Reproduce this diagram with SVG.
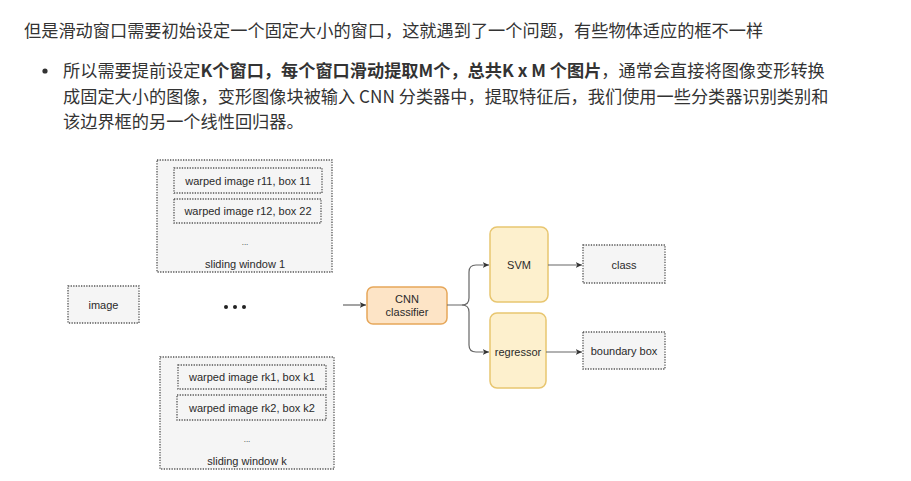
<svg xmlns="http://www.w3.org/2000/svg" width="911" height="481" viewBox="0 0 911 481">
<defs>
<style>
.cn{font-family:"Noto Sans CJK SC","Noto Sans",sans-serif;font-size:17.2px;fill:#333}
.cnb{font-weight:bold}
.t{font-family:"Liberation Sans",Arial,sans-serif;font-size:11px;fill:#2a2a2a;text-anchor:middle;dominant-baseline:central}
.dot{fill:#f5f5f5;stroke:#555;stroke-width:1.3;stroke-dasharray:1.3 1.3}
.cnn{fill:#fde4c6;stroke:#e6a75a;stroke-width:1.5}
.yel{fill:#fdf0cd;stroke:#e8c670;stroke-width:1.5}
.edge{fill:none;stroke:#666;stroke-width:1.2}
</style>
<marker id="ah" viewBox="0 0 10 10" refX="9" refY="5" markerWidth="7" markerHeight="7" orient="auto" markerUnits="userSpaceOnUse">
<path d="M0,1 L9,5 L0,9 L2.5,5 Z" fill="#333"/>
</marker>
</defs>
<rect width="911" height="481" fill="#fff"/>
<g id="text">
<text class="cn" x="24" y="37">但是滑动窗口需要初始设定一个固定大小的窗口，这就遇到了一个问题，有些物体适应的框不一样</text>
<circle cx="45" cy="71" r="2.6" fill="#333"/>
<text class="cn" x="63" y="77">所以需要提前设定<tspan class="cnb">K个窗口，每个窗口滑动提取M个，总共K x M 个图片</tspan>，通常会直接将图像变形转换</text>
<text class="cn" x="63" y="103">成固定大小的图像，变形图像块被输入 CNN 分类器中，提取特征后，我们使用一些分类器识别类别和</text>
<text class="cn" x="63" y="128">该边界框的另一个线性回归器。</text>
</g>
<g id="window1">
<rect class="dot" x="157" y="160" width="175" height="112"/>
<rect class="dot" x="174" y="168" width="148" height="25"/>
<text class="t" x="248" y="181">warped image r11, box 11</text>
<rect class="dot" x="174" y="199" width="147" height="24"/>
<text class="t" x="248" y="211">warped image r12, box 22</text>
<text class="t" x="245" y="242" style="font-size:8px">...</text>
<text class="t" x="245" y="264">sliding window 1</text>
</g>
<g id="window_k">
<rect class="dot" x="160" y="357" width="174" height="112"/>
<rect class="dot" x="178" y="365" width="148" height="24"/>
<text class="t" x="252" y="377">warped image rk1, box k1</text>
<rect class="dot" x="177" y="395" width="149" height="25"/>
<text class="t" x="252" y="408">warped image rk2, box k2</text>
<text class="t" x="247" y="439" style="font-size:8px">...</text>
<text class="t" x="247" y="461">sliding window k</text>
</g>
<g id="image">
<rect class="dot" x="68" y="286" width="71" height="37"/>
<text class="t" x="103.5" y="305">image</text>
</g>
<g id="ellipsis">
<circle cx="226" cy="307" r="2" fill="#222"/>
<circle cx="235" cy="307" r="2" fill="#222"/>
<circle cx="244" cy="307" r="2" fill="#222"/>
</g>
<g id="cnn">
<rect class="cnn" x="367" y="287" width="80" height="37" rx="6"/>
<text class="t" x="407" y="299">CNN</text>
<text class="t" x="407" y="312">classifier</text>
</g>
<g id="svm">
<rect class="yel" x="490" y="227" width="58" height="75" rx="7"/>
<text class="t" x="519" y="265">SVM</text>
</g>
<g id="regressor">
<rect class="yel" x="490" y="313" width="56" height="75" rx="7"/>
<text class="t" x="518" y="352">regressor</text>
</g>
<g id="class">
<rect class="dot" x="583" y="245" width="82" height="38"/>
<text class="t" x="624" y="265">class</text>
</g>
<g id="bbox">
<rect class="dot" x="583" y="332" width="82" height="37"/>
<text class="t" x="624" y="351">boundary box</text>
</g>
<g id="connectors">
<path class="edge" d="M343,305 H366" marker-end="url(#ah)"/>
<path class="edge" d="M447,305 H462 Q469,305 469,298 V272 Q469,265 476,265 H489" marker-end="url(#ah)"/>
<path class="edge" d="M462,305 Q469,305 469,312 V345 Q469,352 476,352 H489" marker-end="url(#ah)"/>
<path class="edge" d="M548,265 H582" marker-end="url(#ah)"/>
<path class="edge" d="M546,352 H582" marker-end="url(#ah)"/>
</g>
</svg>
